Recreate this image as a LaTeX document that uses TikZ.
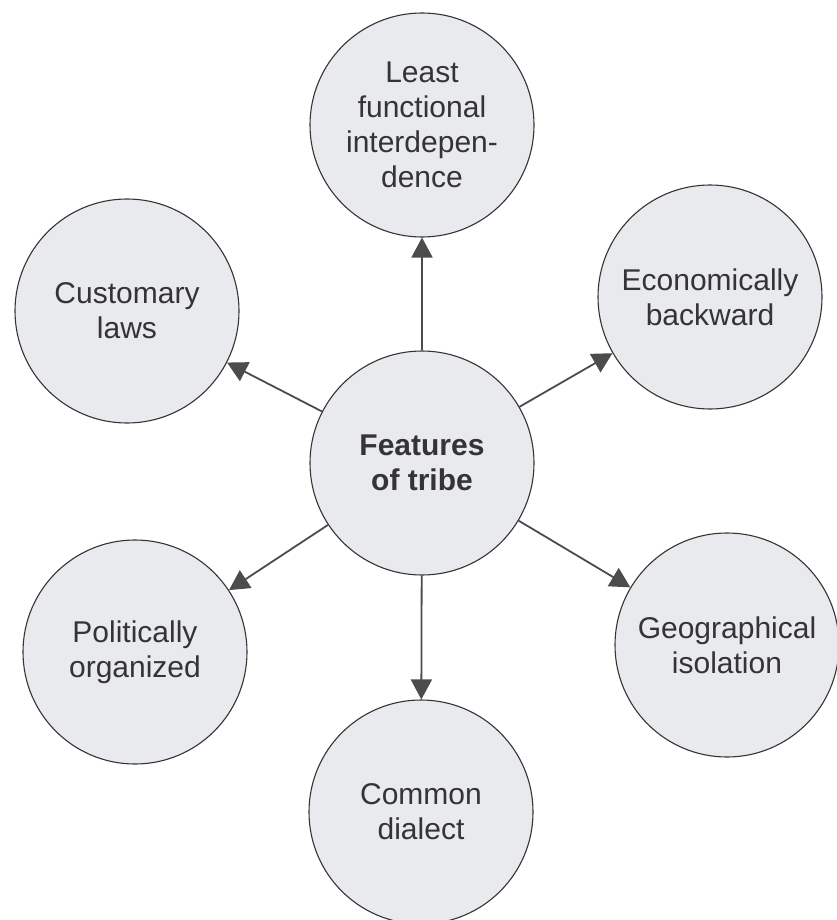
\documentclass[tikz,border=0pt]{standalone}
\usepackage{fontspec}
\setmainfont{Liberation Sans}
\usepackage{tikz}
\usetikzlibrary{arrows.meta}
\definecolor{bubble}{RGB}{233,234,237}
\definecolor{ink}{RGB}{52,52,52}
\begin{document}
\begin{tikzpicture}[x=1pt,y=-1pt,
    every node/.style={circle, draw=ink, line width=1.1pt, fill=bubble,
      minimum size=224pt, inner sep=0pt, align=center, text=ink,
      font=\fontsize{30}{35}\selectfont},
    feat/.style={-{Triangle[length=20pt,width=21pt]}, draw=black!70, line width=1.8pt}]
      \useasboundingbox (0,0) rectangle (837,920);
      \node(F) at (422,463) {\bfseries Features\\\bfseries of tribe};
      \node(L) at (422,125) {Least\\functional\\interdepen-\\dence};
      \node(E) at (710,297) {Economically\\backward};
      \node(C) at (127,311) {Customary\\laws};
      \node(P) at (135,652) {Politically\\organized};
      \node(G) at (727,645) {Geographical\\isolation};
      \node(D) at (421,812) {Common\\dialect};
      \draw[feat] (F) -- (L);
      \draw[feat] (F) -- (E);
      \draw[feat] (F) -- (C);
      \draw[feat] (F) -- (P);
      \draw[feat] (F) -- (G);
      \draw[feat] (F) -- (D);
    \end{tikzpicture}
\end{document}
